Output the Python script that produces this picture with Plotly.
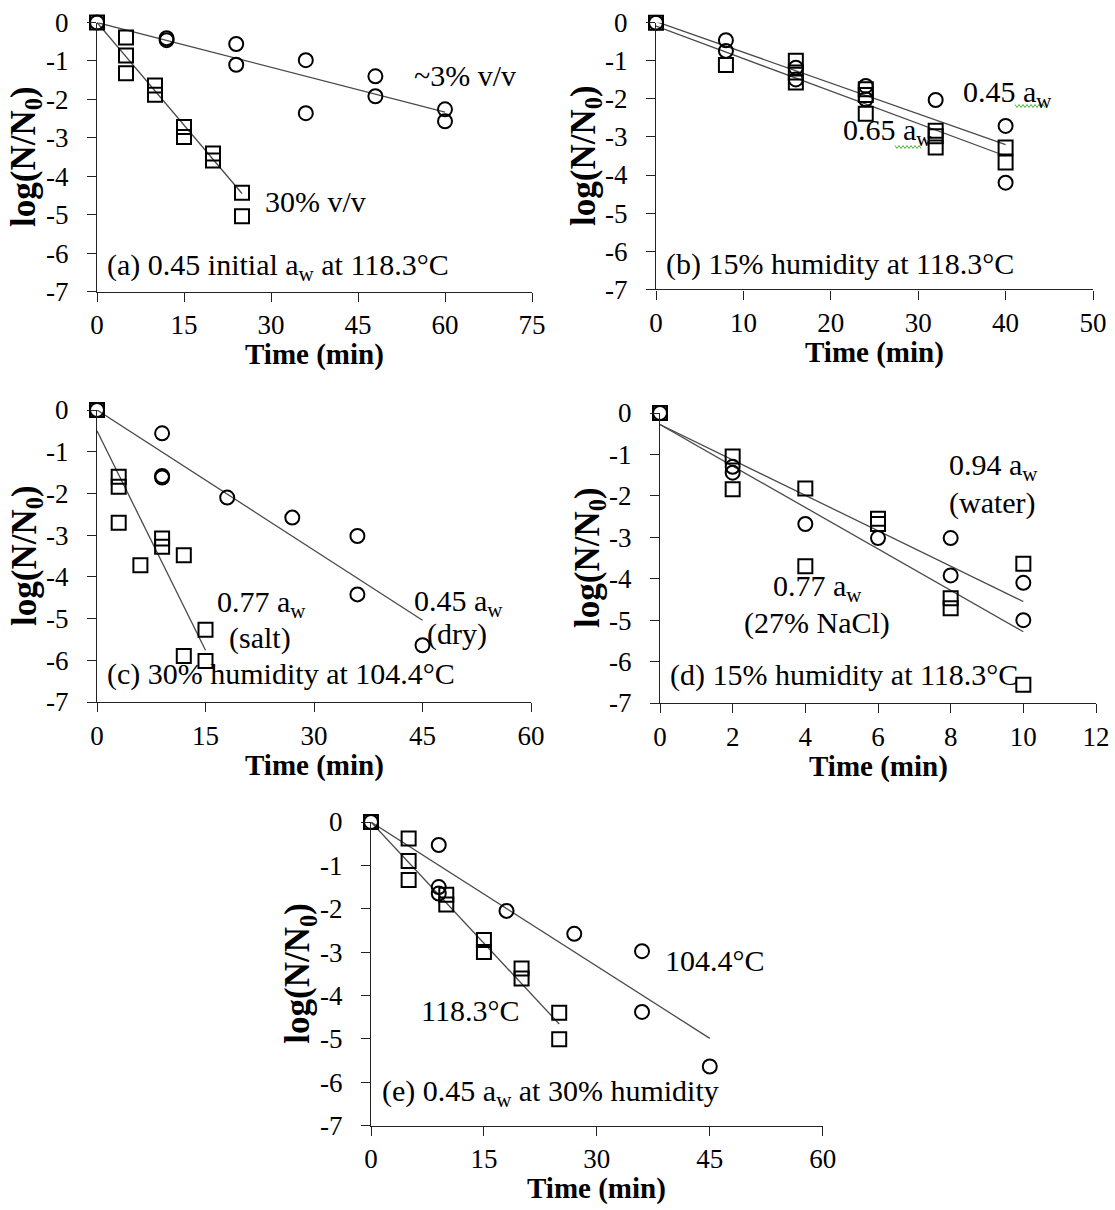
import plotly.graph_objects as go

W, H = 1115, 1210
FONT = "Liberation Serif"

# ---------------- data ----------------
# (a) 0.45 initial aw at 118.3 C
a_circ_t = [0, 12, 12, 24, 24, 36, 36, 48, 48, 60, 60]
a_circ_y = [0, -0.41, -0.46, -0.56, -1.10, -0.98, -2.36, -1.40, -1.92, -2.26, -2.57]
a_sq_t = [0, 5, 5, 5, 10, 10, 15, 15, 20, 20, 25, 25]
a_sq_y = [0, -0.39, -0.86, -1.32, -1.64, -1.88, -2.72, -2.98, -3.41, -3.59, -4.43, -5.04]
a_fit_circ_t, a_fit_circ_y = [0, 60], [0, -2.33]
a_fit_sq_t, a_fit_sq_y = [0, 25], [0, -4.45]

# (b) 15% humidity at 118.3 C
b_circ_t = [0, 8, 8, 16, 16, 24, 24, 32, 40, 40]
b_circ_y = [0, -0.46, -0.74, -1.18, -1.49, -1.66, -2.01, -2.03, -2.71, -4.20]
b_sq_t = [0, 8, 16, 16, 16, 24, 24, 24, 32, 32, 32, 40, 40]
b_sq_y = [0, -1.11, -1.00, -1.31, -1.57, -1.75, -1.90, -2.39, -2.84, -2.98, -3.28, -3.28, -3.67]
b_fit1_t, b_fit1_y = [0, 40], [0.03, -3.20]
b_fit2_t, b_fit2_y = [0, 40], [-0.09, -3.50]

# (c) 30% humidity at 104.4 C
c_circ_t = [0, 9, 9, 9, 18, 27, 36, 36, 45]
c_circ_y = [0, -0.56, -1.58, -1.62, -2.10, -2.58, -3.02, -4.42, -5.64]
c_sq_t = [0, 3, 3, 3, 6, 9, 9, 12, 12, 15, 15]
c_sq_y = [0, -1.60, -1.84, -2.70, -3.72, -3.08, -3.28, -3.48, -5.90, -5.27, -6.02]
c_fit_circ_t, c_fit_circ_y = [0, 45], [0, -5.04]
c_fit_sq_t, c_fit_sq_y = [0, 15], [-0.50, -5.76]

# (d) 15% humidity at 118.3 C
d_circ_t = [0, 2, 2, 4, 6, 8, 8, 10, 10]
d_circ_y = [0, -1.30, -1.44, -2.68, -3.02, -3.02, -3.92, -4.10, -5.00]
d_sq_t = [0, 2, 2, 4, 4, 6, 6, 8, 8, 10, 10]
d_sq_y = [0, -1.05, -1.84, -1.82, -3.70, -2.55, -2.68, -4.47, -4.71, -3.64, -6.56]
d_fit1_t, d_fit1_y = [0, 10], [-0.28, -4.55]
d_fit2_t, d_fit2_y = [0, 10], [-0.28, -5.28]

# (e) 0.45 aw at 30% humidity
e_circ_t = [0, 9, 9, 9, 18, 27, 36, 36, 45]
e_circ_y = [0, -0.53, -1.50, -1.65, -2.05, -2.58, -2.98, -4.38, -5.64]
e_sq_t = [0, 5, 5, 5, 10, 10, 15, 15, 20, 20, 25, 25]
e_sq_y = [0, -0.38, -0.90, -1.34, -1.68, -1.90, -2.72, -3.00, -3.38, -3.61, -4.40, -5.01]
e_fit_circ_t, e_fit_circ_y = [0, 45], [0, -4.99]
e_fit_sq_t, e_fit_sq_y = [0, 25], [0, -4.66]

y_ticks = [0, -1, -2, -3, -4, -5, -6, -7]
y_ticklabels = ["0", "-1", "-2", "-3", "-4", "-5", "-6", "-7"]
x_ticks_a = [0, 15, 30, 45, 60, 75]
x_ticks_b = [0, 10, 20, 30, 40, 50]
x_ticks_c = [0, 15, 30, 45, 60]
x_ticks_d = [0, 2, 4, 6, 8, 10, 12]
x_ticks_e = [0, 15, 30, 45, 60]

# ---------------- layout (pixel boxes of each panel) ----------------
panels = [
    dict(x0=97, x1=532, y0=22.5, y1=291.5, xt=x_ticks_a),
    dict(x0=656, x1=1093, y0=22.7, y1=289.3, xt=x_ticks_b),
    dict(x0=97, x1=531, y0=410, y1=702, xt=x_ticks_c),
    dict(x0=660, x1=1096, y0=413, y1=703, xt=x_ticks_d),
    dict(x0=371, x1=822.7, y0=822, y1=1125.5, xt=x_ticks_e),
]

series = [
    (a_circ_t, a_circ_y, a_sq_t, a_sq_y, [(a_fit_circ_t, a_fit_circ_y), (a_fit_sq_t, a_fit_sq_y)]),
    (b_circ_t, b_circ_y, b_sq_t, b_sq_y, [(b_fit1_t, b_fit1_y), (b_fit2_t, b_fit2_y)]),
    (c_circ_t, c_circ_y, c_sq_t, c_sq_y, [(c_fit_circ_t, c_fit_circ_y), (c_fit_sq_t, c_fit_sq_y)]),
    (d_circ_t, d_circ_y, d_sq_t, d_sq_y, [(d_fit1_t, d_fit1_y), (d_fit2_t, d_fit2_y)]),
    (e_circ_t, e_circ_y, e_sq_t, e_sq_y, [(e_fit_circ_t, e_fit_circ_y), (e_fit_sq_t, e_fit_sq_y)]),
]

labels = [
    [("~3% v/v", 54.3, -1.38), ("30% v/v", 28.7, -4.66),
     ("(a) 0.45 initial a<sub>w</sub> at 118.3°C", 1.3, -6.35)],
    [("0.45 a<sub>w</sub>", 34.9, -1.86), ("0.65 a<sub>w</sub>", 21.2, -2.86),
     ("(b) 15% humidity at 118.3°C", 0.9, -6.34)],
    [("0.77 a<sub>w</sub>", 16.3, -4.64), ("(salt)", 18.0, -5.47),
     ("0.45 a<sub>w</sub>", 43.6, -4.62), ("(dry)", 45.4, -5.38),
     ("(c) 30% humidity at 104.4°C", 1.1, -6.32)],
    [("0.94 a<sub>w</sub>", 7.9, -1.30), ("(water)", 7.9, -2.17),
     ("0.77 a<sub>w</sub>", 3.05, -4.22), ("(27% NaCl)", 2.25, -5.07),
     ("(d) 15% humidity at 118.3°C", 0.22, -6.32)],
    [("104.4°C", 38.8, -3.20), ("118.3°C", 6.4, -4.35),
     ("(e) 0.45 a<sub>w</sub> at 30% humidity", 1.2, -6.26)],
]

# spell-check squiggles under the "w" subscripts of panel (b): (x px start, x px end, y px)
squiggles = [(1015, 1045, 106), (895, 922, 147)]

fig = go.Figure()
annotations = []
shapes = []
layout = dict(
    template="none",
    width=W, height=H, margin=dict(l=0, r=0, t=0, b=0, autoexpand=False),
    paper_bgcolor="white", plot_bgcolor="white", showlegend=False,
    font=dict(family=FONT, color="black", size=28),
)

for i, (p, s, labs) in enumerate(zip(panels, series, labels), start=1):
    xa = "x" if i == 1 else f"x{i}"
    ya = "y" if i == 1 else f"y{i}"
    ct, cy, st, sy, fits = s
    for ft, fy in fits:
        fig.add_trace(go.Scatter(x=ft, y=fy, mode="lines", xaxis=xa, yaxis=ya,
                                 line=dict(color="#4a4a4a", width=1.3), hoverinfo="skip"))
    fig.add_trace(go.Scatter(x=ct, y=cy, mode="markers", xaxis=xa, yaxis=ya, cliponaxis=False,
                             marker=dict(symbol="circle-open", size=14, color="black",
                                         line=dict(width=2, color="black"))))
    fig.add_trace(go.Scatter(x=st, y=sy, mode="markers", xaxis=xa, yaxis=ya, cliponaxis=False,
                             marker=dict(symbol="square-open", size=14, color="black",
                                         line=dict(width=2, color="black"))))
    xt = p["xt"]
    common = dict(showline=True, linecolor="#222", linewidth=1.4, ticks="outside",
                  ticklen=9, tickwidth=1.4, tickcolor="#222", showgrid=False,
                  zeroline=False, automargin=False,
                  tickfont=dict(family=FONT, size=27, color="black"))
    layout["xaxis" if i == 1 else f"xaxis{i}"] = dict(
        domain=[p["x0"] / W, p["x1"] / W], range=[xt[0], xt[-1]], anchor=ya,
        tickvals=xt, ticktext=[str(v) for v in xt], ticklabelstandoff=0, **common)
    layout["yaxis" if i == 1 else f"yaxis{i}"] = dict(
        domain=[1 - p["y1"] / H, 1 - p["y0"] / H], range=[-7, 0], anchor=xa,
        tickvals=y_ticks, ticktext=y_ticklabels, ticklabelstandoff=13, **common)
    for txt, tx, ty in labs:
        annotations.append(dict(text=txt, x=tx, y=ty, xref=xa, yref=ya, showarrow=False,
                                xanchor="left", yanchor="middle",
                                font=dict(family=FONT, size=30, color="black")))
    # axis titles
    annotations.append(dict(text="<b>Time (min)</b>", xref="paper", yref="paper",
                            x=(p["x0"] + p["x1"]) / 2 / W, y=1 - (p["y1"] + 63) / H,
                            showarrow=False, xanchor="center", yanchor="middle",
                            font=dict(family=FONT, size=29, color="black")))
    annotations.append(dict(text="<b>log(N/N<sub>0</sub>)</b>", xref="paper", yref="paper",
                            x=(p["x0"] - 71) / W, y=1 - (p["y0"] + p["y1"]) / 2 / H,
                            textangle=-90, showarrow=False, xanchor="center", yanchor="middle",
                            font=dict(family=FONT, size=35, color="black")))

for sx0, sx1, sy0 in squiggles:
    pts = []
    k = 0
    xx = sx0
    while xx <= sx1:
        yy = sy0 + (1.5 if k % 2 else -1.5)
        pts.append(f"{xx / W:.5f},{1 - yy / H:.5f}")
        xx += 2
        k += 1
    shapes.append(dict(type="path", xref="paper", yref="paper",
                       path="M" + " L".join(pts),
                       line=dict(color="#4caf3a", width=1)))

layout["annotations"] = annotations
layout["shapes"] = shapes
fig.update_layout(**layout)
fig.write_html("out.html", config={"displayModeBar": False},
               post_script="document.body.style.margin='0px';")
